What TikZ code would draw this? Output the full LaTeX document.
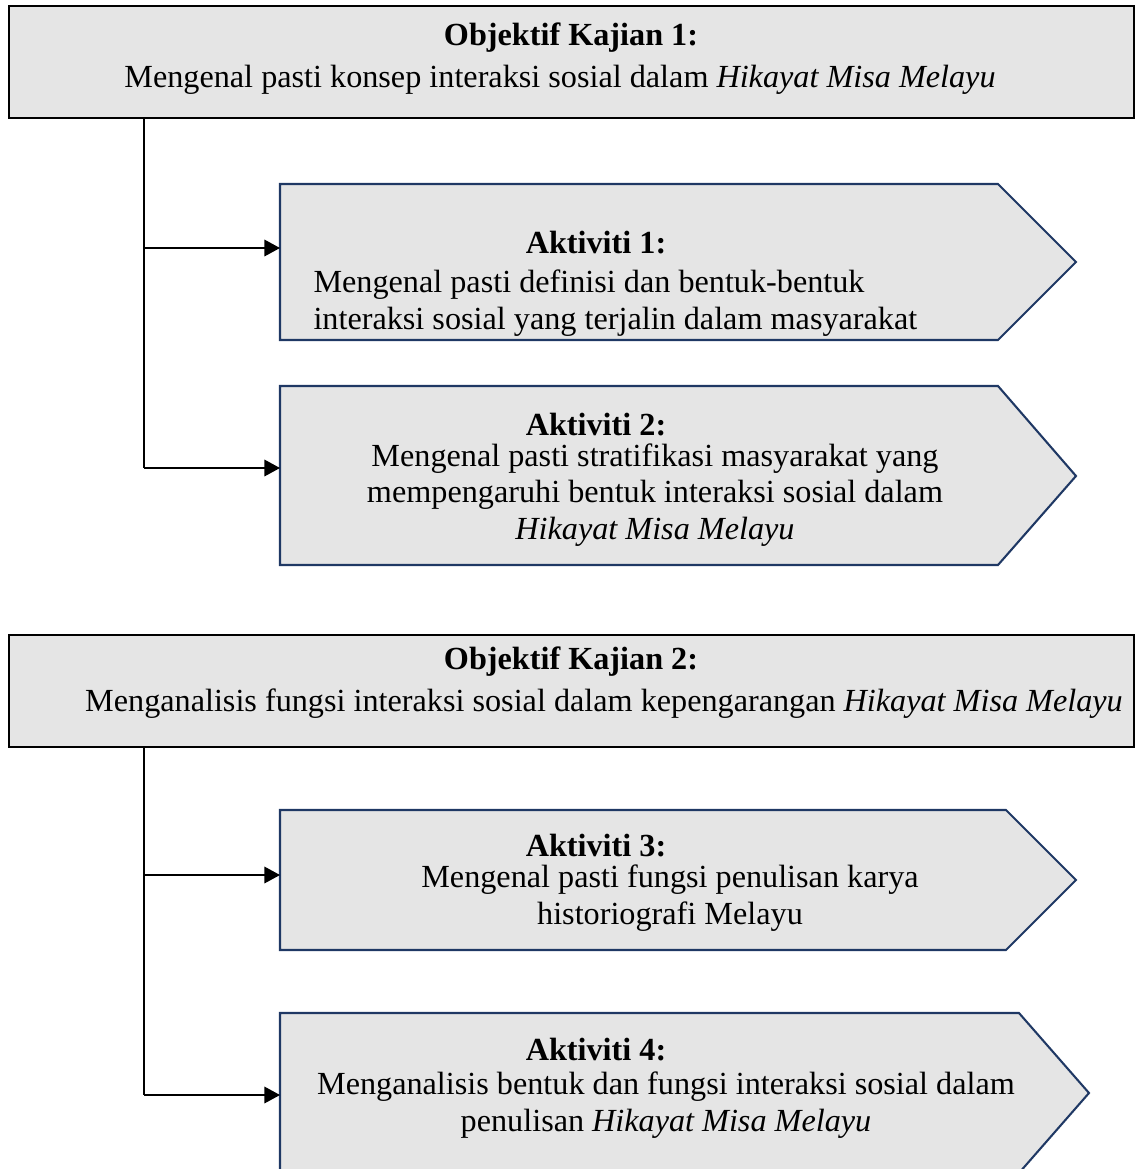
\documentclass[tikz,border=0pt]{standalone}
\usepackage{fontspec}
\setmainfont{Liberation Serif}
\usetikzlibrary{arrows.meta}
\definecolor{boxgray}{RGB}{229,229,229}
\definecolor{boxnavy}{RGB}{31,56,100}

\begin{document}
\begin{tikzpicture}[x=0.385pt,y=-0.385pt,
  objbox/.style={draw=black,fill=boxgray,line width=0.8pt},
  actbox/.style={draw=boxnavy,fill=boxgray,line width=0.8pt},
  trunk/.style={line width=0.6pt},
  conn/.style={line width=0.5pt,-{Triangle[length=6pt,width=6.4pt]}},
  head/.style={font=\fontsize{12.4}{14}\selectfont\bfseries,inner sep=0pt},
  body/.style={font=\fontsize{12.4}{14}\selectfont,align=center,inner sep=0pt}]
\useasboundingbox (0,0) rectangle (1135,1169);
\clip (0,0) rectangle (1135,1169);

% objektif 1
\draw[objbox] (9,6) rectangle (1134,118);
\node[head] (o1h) at (571,38) {Objektif Kajian 1:};
\node[body] (o1t) at (560,80) {Mengenal pasti konsep interaksi sosial dalam \textit{Hikayat Misa Melayu}};
\coordinate (o1b) at (144,118);

% aktiviti 1 & 2
\draw[actbox] (280,184) -- (998,184) -- (1076,262) -- (998,340) -- (280,340) -- cycle;
\coordinate (a1in) at (280,248);
\node[head] (a1h) at (596,243) {Aktiviti 1:};
\node[body,align=left,anchor=west] (a1t) at (313,303) {Mengenal pasti definisi dan bentuk-bentuk\\interaksi sosial yang terjalin dalam masyarakat};

\draw[actbox] (280,386) -- (998,386) -- (1076,476) -- (998,565) -- (280,565) -- cycle;
\coordinate (a2in) at (280,468);
\node[head] (a2h) at (596,425) {Aktiviti 2:};
\node[body] (a2t) at (655,495) {Mengenal pasti stratifikasi masyarakat yang\\mempengaruhi bentuk interaksi sosial dalam\\\textit{Hikayat Misa Melayu}};

\draw[trunk] (o1b) -- (o1b |- a2in);
\draw[conn] (o1b |- a1in) -- (a1in);
\draw[conn] (o1b |- a2in) -- (a2in);

% objektif 2
\draw[objbox] (9,635) rectangle (1134,747);
\node[head] (o2h) at (571,662) {Objektif Kajian 2:};
\node[body] (o2t) at (604,704) {Menganalisis fungsi interaksi sosial dalam kepengarangan \textit{Hikayat Misa Melayu}};
\coordinate (o2b) at (144,747);

% aktiviti 3 & 4
\draw[actbox] (280,810) -- (1006,810) -- (1076,880) -- (1006,950) -- (280,950) -- cycle;
\coordinate (a3in) at (280,875);
\node[head] (a3h) at (596,846) {Aktiviti 3:};
\node[body] (a3t) at (670,898) {Mengenal pasti fungsi penulisan karya\\historiografi Melayu};

\draw[actbox] (280,1013) -- (1019,1013) -- (1089,1093) -- (1019,1173) -- (280,1173) -- cycle;
\coordinate (a4in) at (280,1095);
\node[head] (a4h) at (596,1050) {Aktiviti 4:};
\node[body] (a4t) at (666,1105) {Menganalisis bentuk dan fungsi interaksi sosial dalam\\penulisan \textit{Hikayat Misa Melayu}};

\draw[trunk] (o2b) -- (o2b |- a4in);
\draw[conn] (o2b |- a3in) -- (a3in);
\draw[conn] (o2b |- a4in) -- (a4in);
\end{tikzpicture}
\end{document}
